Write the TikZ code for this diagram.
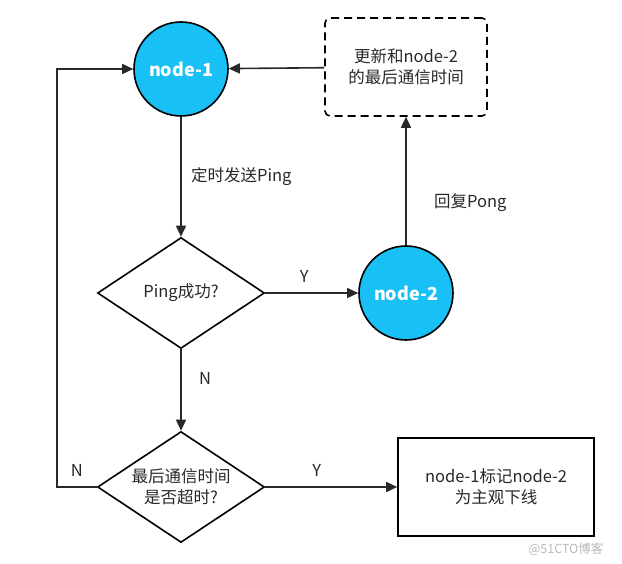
\documentclass[tikz,border=0pt]{standalone}
\usepackage{fontspec}
\setmainfont{Noto Sans CJK SC}
\usetikzlibrary{arrows.meta,shapes.geometric}
\definecolor{pingblue}{RGB}{24,192,245}
\definecolor{inkgray}{RGB}{40,40,40}

\begin{document}
\begin{tikzpicture}[x=1pt, y=-1pt,
    font=\fontsize{16.5}{21}\selectfont, text=inkgray,
    peer/.style={circle, draw=black, line width=1.6pt, fill=pingblue,
        minimum size=94pt, inner sep=0pt, text=white,
        font=\fontsize{18}{21}\selectfont\bfseries},
    choice/.style={diamond, draw=black, line width=1.6pt, shape aspect=1.5,
        minimum width=167pt, minimum height=111pt, inner sep=0pt, align=center},
    task/.style={rectangle, draw=black, line width=1.6pt, minimum width=196pt,
        minimum height=98pt, align=center},
    note/.style={task, dash pattern=on 8pt off 5pt, rounded corners=5pt,
        minimum width=162pt},
    edge/.style={line width=1.6pt, draw=inkgray, -{Triangle[length=11pt,width=10pt]}}
]
    \useasboundingbox (0,0) rectangle (622,564);
    \node[peer] (n1) at (181,69) {node-1};
    \node[note] (upd) at (406,67) {更新和node-2\\的最后通信时间};
    \node[choice] (d1) at (181,293) {Ping成功?};
    \node[peer] (n2) at (406,293) {node-2};
    \node[choice] (d2) at (181,487) {最后通信时间\\是否超时?};
    \node[task] (fail) at (496,487) {node-1标记node-2\\为主观下线};
    \coordinate (back) at (57,487);
    \draw[edge] (upd) -- (n1);
    \draw[edge] (n1) -- node[right, xshift=6pt] {定时发送Ping} (d1);
    \draw[edge] (d1) -- node[above, pos=0.42, yshift=6pt] {Y} (n2);
    \draw[edge] (n2) -- node[right, pos=0.33, xshift=24pt] {回复Pong} (upd);
    \draw[edge] (d1) -- node[right, pos=0.36, xshift=14pt] {N} (d2);
    \draw[edge] (d2) -- node[above, pos=0.39, yshift=6pt] {Y} (fail);
    \draw[edge] (d2.west) -- node[above, yshift=6pt] {N} (back) |- (n1);
    \node[text=gray!55, font=\fontsize{12.5}{14}\selectfont] (mark) at (566,549) {@51CTO博客};
\end{tikzpicture}
\end{document}
